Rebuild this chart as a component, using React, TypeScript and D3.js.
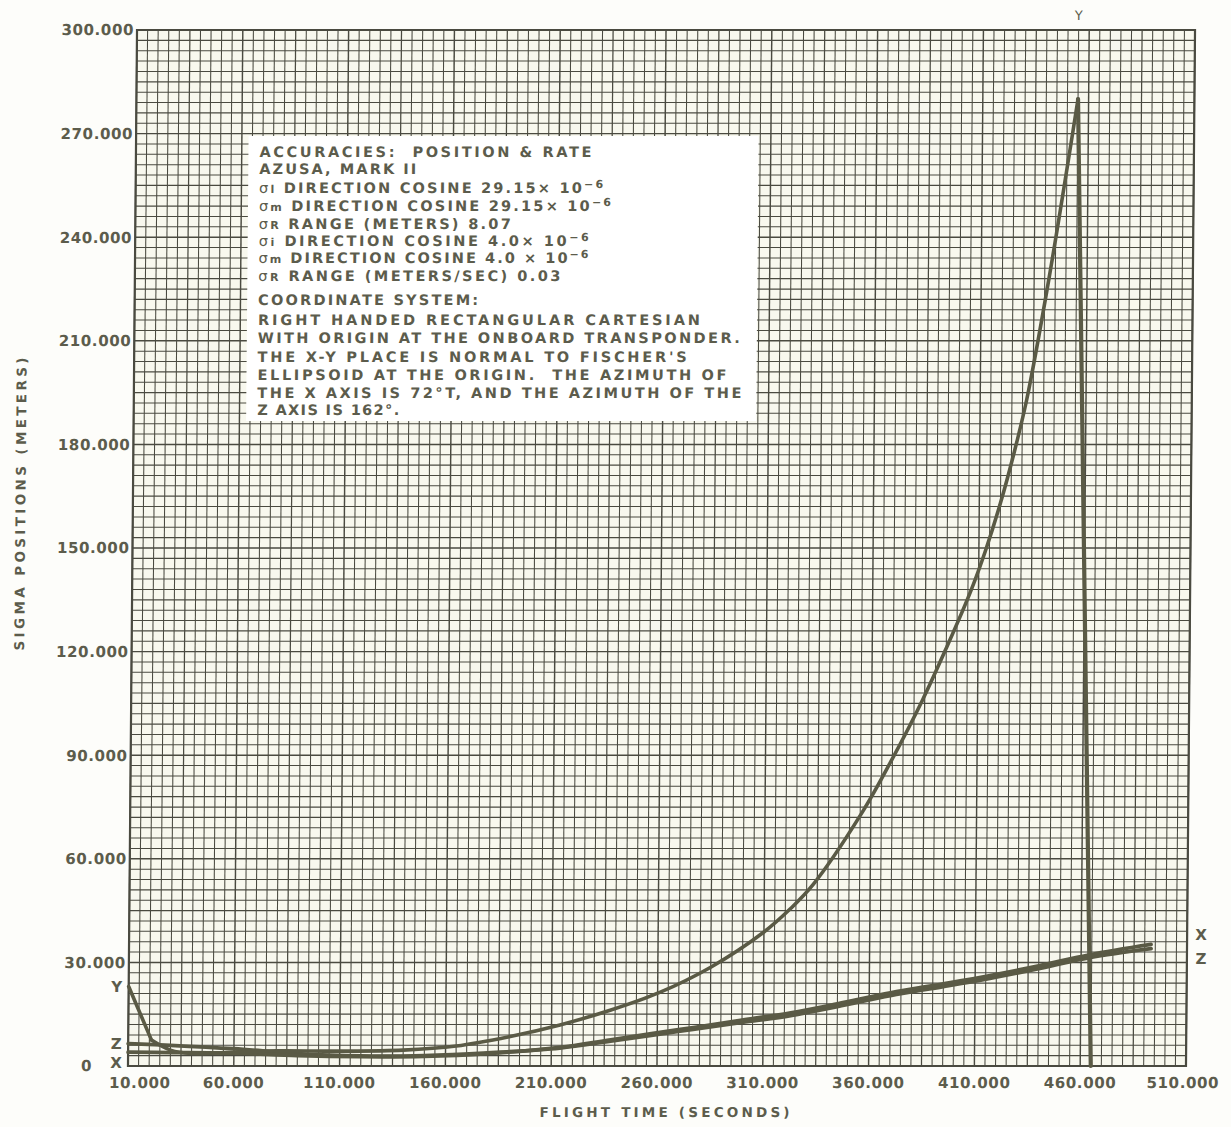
import React from "react";
import * as d3 from "d3";

// Flight time (seconds) axis ticks and sigma position (meters) axis ticks
const timeTicks = [10, 60, 110, 160, 210, 260, 310, 360, 410, 460, 510];
const sigmaTicks = [0, 30, 60, 90, 120, 150, 180, 210, 240, 270, 300];

// Sigma Y: [flight time, sigma meters]
const seriesY: [number, number][] = [
  [10, 23], [21, 7.5], [30, 4.6], [40, 3.6], [60, 4.0], [80, 4.4], [110, 4.3],
  [140, 4.6], [165, 5.8], [190, 8.5], [214, 11.9], [238, 16.2], [261, 21.3],
  [285, 28.6], [310, 38.8], [322, 45.3], [333, 52.5], [356, 73.5], [370, 89],
  [384, 106], [395, 121], [406, 137], [413, 149], [420, 163], [426, 177],
  [432, 193], [442, 228], [455, 280], [465, 0],
];

// Sigma X
const seriesX: [number, number][] = [
  [10, 4.0], [30, 3.9], [60, 3.7], [90, 3.0], [120, 2.7], [150, 2.8], [180, 3.6],
  [214, 5.4], [238, 7.6], [270, 10.5], [300, 13.3], [323, 15.4], [345, 18],
  [370, 21.2], [395, 23.8], [417, 26.2], [440, 29], [464, 32.2], [493, 35.2],
];

// Sigma Z
const seriesZ: [number, number][] = [
  [10, 6.5], [30, 6.0], [60, 5.0], [90, 3.6], [120, 2.9], [150, 3.0], [180, 3.8],
  [214, 5.2], [238, 7.2], [270, 10], [300, 12.6], [323, 14.6], [345, 17.2],
  [370, 20.4], [395, 23], [417, 25.4], [440, 28.2], [464, 31.4], [493, 34.0],
];

// Annotation block: optional sigma subscript, body text, optional exponent
const noteLines: { sub?: string; body: string; exp?: string }[] = [
  { body: "ACCURACIES:  POSITION & RATE" },
  { body: "AZUSA, MARK II" },
  { sub: "l", body: " DIRECTION COSINE 29.15\u00d7 10", exp: "\u22126" },
  { sub: "m", body: " DIRECTION COSINE 29.15\u00d7 10", exp: "\u22126" },
  { sub: "R", body: " RANGE (METERS) 8.07" },
  { sub: "i", body: " DIRECTION COSINE 4.0\u00d7 10", exp: "\u22126" },
  { sub: "m", body: " DIRECTION COSINE 4.0 \u00d7 10", exp: "\u22126" },
  { sub: "R", body: " RANGE (METERS/SEC) 0.03" },
  { body: "COORDINATE SYSTEM:" },
  { body: "RIGHT HANDED RECTANGULAR CARTESIAN" },
  { body: "WITH ORIGIN AT THE ONBOARD TRANSPONDER." },
  { body: "THE X-Y PLACE IS NORMAL TO FISCHER'S" },
  { body: "ELLIPSOID AT THE ORIGIN.  THE AZIMUTH OF" },
  { body: "THE X AXIS IS 72\u00b0T, AND THE AZIMUTH OF THE" },
  { body: "Z AXIS IS 162\u00b0." },
];

const W = 1231;
const H = 1127;
const INK = "#5a5a45";
const GRID = "#4a4a40";
const TEXT = "#5c5c4c";

// Layout of the annotation block
const noteBaselines = [157, 174, 193, 211, 229, 246, 263, 281, 305, 325, 343, 362, 380, 398, 415];
const noteWidths = [332, 157, 344, 352, 252, 330, 330, 302, 220, 442, 482, 429, 469, 484, 142];

export default function App() {
  const x = d3.scaleLinear().domain([10, 510]).range([132.5, 1190.5]);
  const y = d3.scaleLinear().domain([0, 300]).range([1066, 30]);

  const fmt = d3.format(".3f");
  const tickText = (v: number) => (v === 0 ? "0" : fmt(v));

  const smooth = d3
    .line<[number, number]>()
    .x((d) => x(d[0]))
    .y((d) => y(d[1]))
    .curve(d3.curveCatmullRom.alpha(0.5));
  const straight = d3
    .line<[number, number]>()
    .x((d) => x(d[0]))
    .y((d) => y(d[1]));

  // Y trace: initial drop, smooth rise to the peak, then the fall-off
  const peakIdx = seriesY.reduce((m, d, i) => (d[1] > seriesY[m][1] ? i : m), 0);
  const yDrop = straight(seriesY.slice(0, 2));
  const yRise = smooth(seriesY.slice(1, peakIdx + 1));
  const yFall = straight(seriesY.slice(peakIdx));

  const minorX = d3.range(10, 510.001, 5);
  const minorY = d3.range(0, 300.001, 3);

  const cy = (y(0) + y(300)) / 2;
  const lastX = seriesX[seriesX.length - 1];
  const lastZ = seriesZ[seriesZ.length - 1];
  const peak = seriesY[peakIdx];

  return (
    <svg
      width={W}
      height={H}
      style={{ position: "absolute", left: 0, top: 0, background: "#fdfdfa" }}
      fontFamily="'DejaVu Sans', sans-serif"
    >
      <rect x={0} y={0} width={W} height={H} fill="#fdfdfa" />
      <g transform={`translate(0,${cy}) skewX(-0.5) translate(0,${-cy})`}>
        {/* plotting paper */}
        <rect
          x={x(10)}
          y={y(300)}
          width={x(510) - x(10)}
          height={y(0) - y(300)}
          fill="#f8f8ee"
        />
        <g stroke={GRID}>
          {minorX.map((v, i) => (
            <line
              key={"gx" + i}
              x1={x(v)}
              x2={x(v)}
              y1={y(0)}
              y2={y(300)}
              strokeWidth={i % 10 === 0 ? 1.45 : i % 5 === 0 ? 1.25 : 1.05}
            />
          ))}
          {minorY.map((v, i) => (
            <line
              key={"gy" + i}
              x1={x(10)}
              x2={x(510)}
              y1={y(v)}
              y2={y(v)}
              strokeWidth={i % 10 === 0 ? 1.45 : i % 5 === 0 ? 1.25 : 1.05}
            />
          ))}
        </g>
        <rect
          x={x(10)}
          y={y(300)}
          width={x(510) - x(10)}
          height={y(0) - y(300)}
          fill="none"
          stroke={GRID}
          strokeWidth={2.2}
        />

        {/* annotation block */}
        <rect x={245} y={136} width={510} height={285} fill="#ffffff" />
        <g fill={TEXT} fontSize={14.5} fontWeight="bold">
          {noteLines.map((ln, i) => (
            <text
              key={"n" + i}
              x={256}
              y={noteBaselines[i]}
              textLength={noteWidths[i]}
              lengthAdjust="spacing"
              style={{ whiteSpace: "pre" }}
            >
              {ln.sub ? (
                <>
                  <tspan fontWeight="normal">{"\u03c3"}</tspan>
                  <tspan fontSize={11}>{ln.sub}</tspan>
                </>
              ) : null}
              <tspan>{ln.body}</tspan>
              {ln.exp ? (
                <tspan fontSize={11} dy={-5}>
                  {ln.exp}
                </tspan>
              ) : null}
            </text>
          ))}
        </g>

        {/* traces */}
        <g fill="none" stroke={INK} strokeLinejoin="round" strokeLinecap="round">
          <path d={smooth(seriesZ) || ""} strokeWidth={3.8} />
          <path d={smooth(seriesX) || ""} strokeWidth={3.8} />
          <path d={yDrop || ""} strokeWidth={3.6} />
          <path d={yRise || ""} strokeWidth={3.6} />
          <path d={yFall || ""} strokeWidth={4.2} />
        </g>

        {/* axis tick labels */}
        <g fill={TEXT} fontSize={15} fontWeight="bold" letterSpacing={0.6}>
          {sigmaTicks.map((v) => (
            <text
              key={"ty" + v}
              x={x(10) - (v === 0 ? 36 : 3)}
              y={y(v)}
              dy="0.36em"
              textAnchor="end"
            >
              {tickText(v)}
            </text>
          ))}
          {timeTicks.map((v, i) => (
            <text
              key={"tx" + v}
              x={x(v) + (i === 0 ? 12 : i === timeTicks.length - 1 ? -3 : 0)}
              y={y(0) + 22}
              textAnchor="middle"
            >
              {tickText(v)}
            </text>
          ))}
        </g>

        {/* series labels */}
        <g fill={TEXT} fontSize={15} fontWeight="bold">
          <text x={x(10) - 12} y={y(seriesY[0][1])} dy="0.36em" textAnchor="middle">
            Y
          </text>
          <text x={x(10) - 12} y={y(seriesZ[0][1])} dy="0.36em" textAnchor="middle">
            Z
          </text>
          <text x={x(10) - 12} y={y(seriesX[0][1]) + 10} dy="0.36em" textAnchor="middle">
            X
          </text>
          <text x={x(peak[0])} y={y(300) - 10} textAnchor="middle" fontSize={13} fontWeight="normal">
            Y
          </text>
          <text x={x(510) + 14} y={y(lastX[1]) - 10} dy="0.36em" textAnchor="middle">
            X
          </text>
          <text x={x(510) + 14} y={y(lastZ[1]) + 10} dy="0.36em" textAnchor="middle">
            Z
          </text>
        </g>

        {/* axis titles */}
        <g fill={TEXT} fontSize={13.5} fontWeight="bold">
          <text
            x={(x(10) + x(510)) / 2 + 8}
            y={1117}
            textAnchor="middle"
            textLength={250}
            lengthAdjust="spacing"
          >
            FLIGHT TIME (SECONDS)
          </text>
          <text
            transform={`translate(25,${cy - 44}) rotate(-90)`}
            textAnchor="middle"
            textLength={293}
            lengthAdjust="spacing"
          >
            SIGMA POSITIONS (METERS)
          </text>
        </g>
      </g>
    </svg>
  );
}
